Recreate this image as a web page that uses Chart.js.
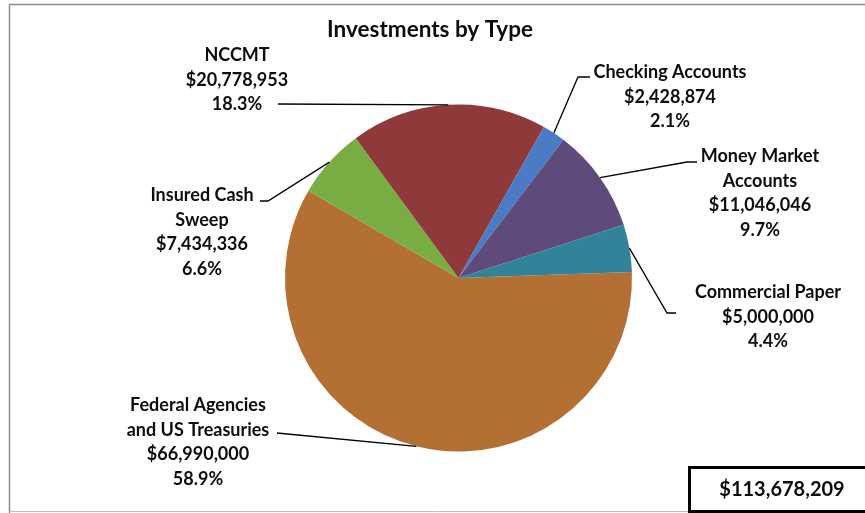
<!DOCTYPE html>
<html>
<head>
<meta charset="utf-8">
<title>Investments by Type</title>
<script src="https://cdn.jsdelivr.net/npm/chart.js@4.4.1/dist/chart.umd.min.js"></script>
<style>
  html, body { margin: 0; padding: 0; background: #fff; }
  #investChart { display: block; }
</style>
</head>
<body>
<canvas id="investChart" width="865" height="513"></canvas>
<script>
/* --- Data --- */
const categories = [
  ['Federal Agencies', 'and US Treasuries'],
  ['Insured Cash', 'Sweep'],
  ['NCCMT'],
  ['Checking Accounts'],
  ['Money Market', 'Accounts'],
  ['Commercial Paper']
];
const amounts = [66990000, 7434336, 20778953, 2428874, 11046046, 5000000];
const percents = [58.9, 6.6, 18.3, 2.1, 9.7, 4.4];
const sliceColors = ['#B46F32', '#78AD44', '#8E3A3A', '#4A7BC4', '#5E4A7B', '#32839A'];
const chartTitle = 'Investments by Type';

/* --- Label placement: text centre, first row, leader elbow/end --- */
const labelLayout = [
  { cx: 198, y: 405, path: [[277, 433]] },
  { cx: 202, y: 195, path: [[268, 201], [260, 201]] },
  { cx: 237, y: 55,  path: [[278, 104]] },
  { cx: 670, y: 72,  path: [[578, 77], [590, 77]] },
  { cx: 760, y: 156, path: [[687, 162], [697, 162]] },
  { cx: 768, y: 292, path: [[667, 313], [676, 313]] }
];

const total = amounts.reduce((a, b) => a + b, 0);
const fmtMoney = (v) => '$' + v.toLocaleString('en-US');
const fmtPct = (v) => v.toFixed(1) + '%';

const FONT = "Lato, 'Open Sans', sans-serif";
const ink = '#0D0D0D';

const decorPlugin = {
  id: 'decor',
  afterDraw(chart) {
    const ctx = chart.ctx;
    const meta = chart.getDatasetMeta(0);
    ctx.save();

    // chart frame
    ctx.strokeStyle = '#8C8C8C';
    ctx.lineWidth = 1.5;
    ctx.beginPath();
    ctx.moveTo(9.5, 513);
    ctx.lineTo(9.5, 4.5);
    ctx.lineTo(866, 4.5);
    ctx.stroke();
    ctx.strokeStyle = '#BFBFBF';
    ctx.lineWidth = 1;
    ctx.beginPath();
    ctx.moveTo(9.5, 511.5);
    ctx.lineTo(866, 511.5);
    ctx.stroke();

    // title
    ctx.fillStyle = ink;
    ctx.textAlign = 'center';
    ctx.textBaseline = 'middle';
    ctx.font = 'bold 22.5px ' + FONT;
    ctx.fillText(chartTitle, 430, 30);

    // leader lines + data labels
    meta.data.forEach((arc, i) => {
      const p = arc.getProps(['x', 'y', 'startAngle', 'endAngle', 'outerRadius'], true);
      const mid = (p.startAngle + p.endAngle) / 2;
      const ax = p.x + Math.cos(mid) * p.outerRadius;
      const ay = p.y + Math.sin(mid) * p.outerRadius;
      const lay = labelLayout[i];

      ctx.strokeStyle = '#000';
      ctx.lineWidth = 1.3;
      ctx.beginPath();
      ctx.moveTo(ax, ay);
      lay.path.forEach(([x, y]) => ctx.lineTo(x, y));
      ctx.stroke();

      const lines = categories[i].concat([fmtMoney(amounts[i]), fmtPct(percents[i])]);
      ctx.fillStyle = ink;
      ctx.font = 'bold 18px ' + FONT;
      lines.forEach((t, k) => ctx.fillText(t, lay.cx, lay.y + k * 24.7));
    });

    // total box
    ctx.strokeStyle = '#000';
    ctx.lineWidth = 3;
    ctx.strokeRect(689.5, 467.5, 190, 44);
    ctx.fillStyle = ink;
    ctx.font = 'bold 20px ' + FONT;
    ctx.fillText(fmtMoney(total), 782, 490);

    ctx.restore();
  }
};

new Chart(document.getElementById('investChart'), {
  type: 'pie',
  data: {
    labels: categories.map((c) => c.join(' ')),
    datasets: [{
      data: amounts,
      backgroundColor: sliceColors,
      borderWidth: 0
    }]
  },
  options: {
    responsive: false,
    animation: false,
    rotation: 88,
    layout: { padding: { top: 104.5, bottom: 61.5, left: 285, right: 233 } },
    plugins: {
      legend: { display: false },
      tooltip: { enabled: false }
    }
  },
  plugins: [decorPlugin]
});
</script>
</body>
</html>
